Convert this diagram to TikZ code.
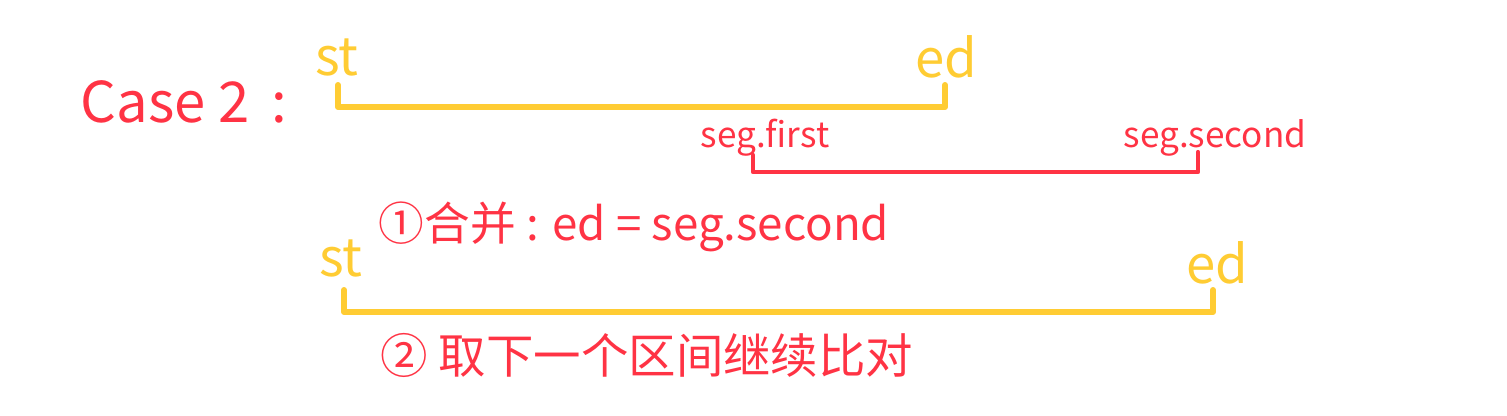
\documentclass[tikz,border=0pt]{standalone}
\usepackage{fontspec}
\newfontfamily\cjk{Noto Sans CJK SC}
\usetikzlibrary{positioning}

\definecolor{penred}{HTML}{FF3344}
\definecolor{penyellow}{HTML}{FFCC33}

\tikzset{
    redtext/.style={text=penred, font=\cjk\fontsize{10}{12}\selectfont, inner sep=0pt},
    yellowtext/.style={text=penyellow, font=\cjk\fontsize{15}{17}\selectfont, inner sep=0pt},
    yellowline/.style={draw=penyellow, line width=1.7pt, line cap=round, line join=round},
    redline/.style={draw=penred, line width=1.2pt, line cap=round, line join=round}
}

\begin{document}
\begin{tikzpicture}

        \useasboundingbox (0, 0) rectangle (15.07, 4.15);

        % ---------------------------------------------------
        % 1. Title
        % ---------------------------------------------------
        \node[redtext, font=\cjk\fontsize{16}{19}\selectfont, anchor=west] (title) at (0.80, 3.13) {Case 2 \,:};

        % ---------------------------------------------------
        % 2. Current interval [st, ed]
        % ---------------------------------------------------
        \node[yellowtext] (st1) at (3.37, 3.58) {st};
        \node[yellowtext] (ed1) at (9.46, 3.58) {ed};

        \coordinate (st1top) at (3.38, 3.30);
        \coordinate (ed1top) at (9.45, 3.30);
        \draw[yellowline] (st1top) -- (3.38, 3.08) -| (ed1top);

        % ---------------------------------------------------
        % 3. Next segment [seg.first, seg.second]
        % ---------------------------------------------------
        \node[redtext] (segf) at (7.65, 2.77) {seg.first};
        \node[redtext] (segs) at (12.15, 2.77) {seg.second};

        \coordinate (segftop) at (7.53, 2.60);
        \coordinate (segstop) at (11.98, 2.63);
        \draw[redline] (segftop) -- (7.53, 2.43) -| (segstop);

        % ---------------------------------------------------
        % 4. Step 1: merge
        % ---------------------------------------------------
        \node[redtext, font=\cjk\fontsize{13}{16}\selectfont, anchor=west] (merge) at (3.78, 1.88) {①合并 : ed = seg.second};

        \node[yellowtext] (st2) at (3.41, 1.57) {st};
        \node[yellowtext] (ed2) at (12.17, 1.52) {ed};

        \coordinate (st2top) at (3.44, 1.25);
        \coordinate (ed2top) at (12.13, 1.25);
        \draw[yellowline] (st2top) -- (3.44, 1.03) -| (ed2top);

        % ---------------------------------------------------
        % 5. Step 2: next interval
        % ---------------------------------------------------
        \node[redtext, font=\cjk\fontsize{13.5}{16}\selectfont, anchor=west] (next) at (3.80, 0.60) {② 取下一个区间继续比对};

\end{tikzpicture}
\end{document}
